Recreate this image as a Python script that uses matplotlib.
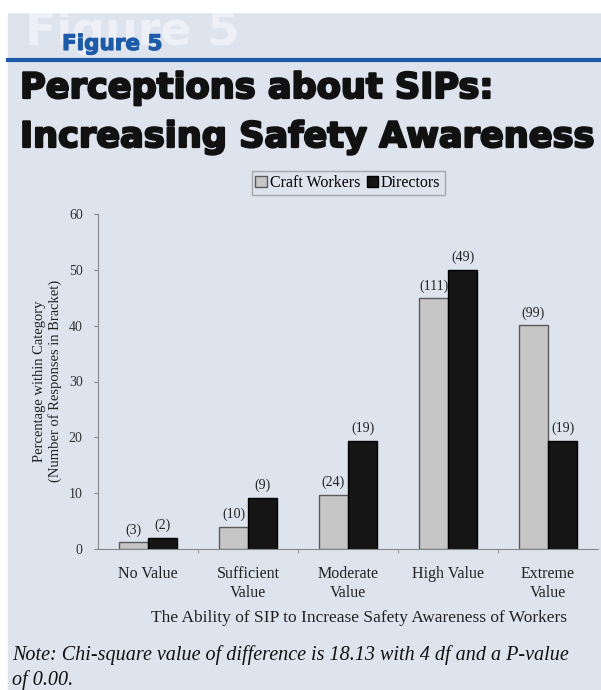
import numpy as np
import matplotlib.pyplot as plt
import matplotlib.patheffects as pe
from matplotlib.patches import Rectangle, Patch
from matplotlib.lines import Line2D

categories = ["No Value", "Sufficient\nValue", "Moderate\nValue", "High Value", "Extreme\nValue"]
craft_pct = [1.2, 4.0, 9.7, 44.9, 40.1]
director_pct = [2.0, 9.2, 19.4, 50.0, 19.4]
craft_n = [3, 10, 24, 111, 99]
director_n = [2, 9, 19, 49, 19]
series = ["Craft Workers", "Directors"]
yticks = [0, 10, 20, 30, 40, 50, 60]

bg = "#dde4ee"
serif = ["Liberation Serif", "DejaVu Serif"]
heavy = ["DejaVu Sans"]
W, H = 601, 690

fig = plt.figure(figsize=(W / 100, H / 100), dpi=100)
fig.patch.set_facecolor("white")

# page background + header decoration
fig.patches.append(Rectangle((8 / W, 0), 1, 1 - 12 / H, transform=fig.transFigure,
                             color=bg, zorder=-3))
fig.text(25 / W, 1 - 45 / H, "Figure 5", fontsize=33, fontweight="bold",
         color="#edf1f7", family=heavy, va="baseline", zorder=-2)
fig.patches.append(Rectangle((0, 1 - 12 / H), 1, 12 / H, transform=fig.transFigure,
                             color="white", zorder=-1))
fig.text(62 / W, 1 - 50 / H, "Figure 5", fontsize=15.5, fontweight="bold",
         color="#1d5aa8", family=heavy, va="baseline",
         path_effects=[pe.withStroke(linewidth=0.8, foreground="#1d5aa8")])
fig.add_artist(Line2D([8 / W, 1], [1 - 59.5 / H] * 2, color="#1f5aa6", lw=3,
                      transform=fig.transFigure))
thick = [pe.withStroke(linewidth=1.6, foreground="#111")]
fig.text(20 / W, 1 - 88 / H, "Perceptions about SIPs:", fontsize=25.3,
         fontweight="bold", family=heavy, va="center", color="#111", path_effects=thick)
fig.text(20 / W, 1 - 137 / H, "Increasing Safety Awareness", fontsize=25.3,
         fontweight="bold", family=heavy, va="center", color="#111", path_effects=thick)

# chart
ax = fig.add_axes([98 / W, 1 - 549 / H, 500 / W, 335 / H])
ax.set_zorder(2)
ax.set_facecolor("none")
x = np.arange(len(categories))
w = 0.29
b1 = ax.bar(x - w / 2, craft_pct, w, color="#c6c6c6", edgecolor="#5a5a5a", lw=1)
b2 = ax.bar(x + w / 2, director_pct, w, color="#151515", edgecolor="#000", lw=1)

for bars, counts in ((b1, craft_n), (b2, director_n)):
    for rect, n in zip(bars, counts):
        ax.annotate(f"({n})", (rect.get_x() + rect.get_width() / 2, rect.get_height()),
                    xytext=(0, 4), textcoords="offset points", ha="center", va="bottom",
                    fontsize=10, family=serif, color="#222")

ax.set_xlim(-0.5, 4.5)
ax.set_ylim(0, 60)
ax.set_yticks(yticks)
ax.set_xticks(x)
ax.set_xticklabels(categories, fontsize=11.5, family=serif, color="#222", linespacing=1.25)
ax.set_xticks(np.arange(0.5, 4.5, 1), minor=True)
ax.tick_params(axis="x", which="major", length=0, pad=12)
ax.tick_params(axis="x", which="minor", length=3, color="#888")
ax.tick_params(axis="y", length=3, color="#888", labelsize=10, labelcolor="#333", pad=8)
for lab in ax.get_yticklabels():
    lab.set_family(serif)
for s in ("top", "right"):
    ax.spines[s].set_visible(False)
for s in ("left", "bottom"):
    ax.spines[s].set_color("#888")
    ax.spines[s].set_linewidth(0.8)

ax.set_ylabel("Percentage within Category\n(Number of Responses in Bracket)",
              fontsize=10.5, family=serif, color="#222", linespacing=1.2)
ax.yaxis.set_label_coords((62 - 98) / 500, (549 - 381) / 335)

fig.text(359 / W, 1 - 618 / H, "The Ability of SIP to Increase Safety Awareness of Workers",
         ha="center", va="center", fontsize=12.5, family=serif, color="#222")

handles = [Patch(facecolor="#c6c6c6", edgecolor="#5a5a5a"),
           Patch(facecolor="#151515", edgecolor="#000")]
fig.legend(handles, series, loc="center", bbox_to_anchor=(348 / W, 1 - 183 / H), ncol=2,
           frameon=True, fancybox=False, edgecolor="#999", facecolor=bg,
           prop={"family": serif, "size": 11.5}, handlelength=0.7, handleheight=0.7,
           handletextpad=0.2, columnspacing=0.4, borderpad=0.25)

fig.text(12 / W, 1 - 655 / H,
         "Note: Chi-square value of difference is 18.13 with 4 df and a P-value",
         fontsize=14.5, style="italic", family=serif, va="center", color="#111")
fig.text(12 / W, 1 - 680 / H, "of 0.00.",
         fontsize=14.5, style="italic", family=serif, va="center", color="#111")

fig.savefig("out.png", dpi=100)
